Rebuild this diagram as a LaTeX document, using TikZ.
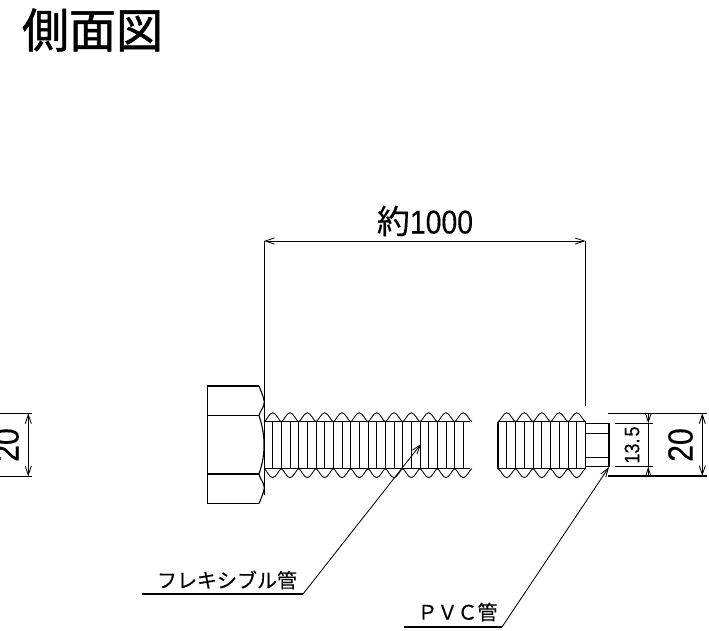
\documentclass[tikz,border=0pt]{standalone}
\usepackage{fontspec}
\setmainfont{Noto Sans CJK JP}[FakeBold=0.3]
\newfontfamily\titlefont{Noto Sans CJK JP}[FakeBold=1.1]
\newfontfamily\dimfont[FakeStretch=0.86,FakeBold=0.3]{Liberation Sans}
\usetikzlibrary{arrows.meta}
\usetikzlibrary{calc}

\begin{document}
\begin{tikzpicture}[
            x = 1pt,
            y = -1pt,
            > = {Straight Barb[length=9pt,width=6pt]}, % arrow head style
            line width = 1.1pt
        ]

        \tikzstyle{every node}=[
            inner sep = 0pt,
            outer sep = 0pt
        ]
        \tikzstyle{thin line}=[line width = 0.85pt]

        \useasboundingbox (0,0) rectangle (709,630);
        \clip (0,0) rectangle (709,630);

	% title
        \node (title) at (92.5,30) {\fontsize{47}{47}\titlefont 側面図};

	% hexagon head
        \coordinate (HTL) at (207.5,386);
        \coordinate (HTR) at (259,386);
        \coordinate (HU) at (259,415.5);
        \coordinate (HD) at (259,474);
        \coordinate (HBR) at (259,503.5);
        \coordinate (HBL) at (207.5,503.5);
        \coordinate (HUL) at (207.5,415.5);
        \coordinate (HDL) at (207.5,474);

        \draw (HBR) -- (HBL) -- (HTL) -- (HTR);
        \draw (HUL) -- (HU);
        \draw (HDL) -- (HD);
        \draw (HTR) .. controls (263,396) and (265,401) .. (264,404)
                    .. controls (263,409) and (260,411) .. (HU)
                    .. controls (263,428) and (264,436) .. (264,445)
                    .. controls (264,454) and (263,462) .. (HD)
                    .. controls (260,479) and (263,481) .. (264,486)
                    .. controls (265,489) and (263,494) .. (HBR);

	% flexible pipe
        \coordinate (PT1) at (264,421.7);
        \coordinate (PB1) at (264,468.7);
        \coordinate (PT2) at (470,421.7);
        \coordinate (PB2) at (470,468.7);
        \coordinate (QT1) at (498,421.7);
        \coordinate (QB1) at (498,468.7);
        \coordinate (QT2) at (585.5,421.7);
        \coordinate (QB2) at (585.5,468.7);

        \draw (PT1) -- (PT2);
        \draw (PB1) -- (PB2);
        \draw (QT1) -- (QT2);
        \draw (QB1) -- (QB2);
        \draw (QT1) -- (QB1);
        \draw (QT2) -- (QB2);

        \foreach \k in {1,...,23}
            \draw[thin line] ($(PT1)+(\k*8.67,0)$) -- ($(PB1)+(\k*8.67,0)$);
        \foreach \k in {1,...,9}
            \draw[thin line] ($(QT1)+(\k*8.75,0)$) -- ($(QB1)+(\k*8.75,0)$);

        \foreach \k in {0,...,11} {
            \draw[thin line] ($(PT1)+(\k*17.33,0)$) .. controls +(2,0) and +(-3.5,0) .. ++(8.67,-9)
                .. controls +(3.5,0) and +(-2,0) .. ++(8.67,9);
            \draw[thin line] ($(PB1)+(\k*17.33,0)$) .. controls +(2,0) and +(-3.5,0) .. ++(8.67,9)
                .. controls +(3.5,0) and +(-2,0) .. ++(8.67,-9);
        }
        \foreach \k in {0,...,4} {
            \draw[thin line] ($(QT1)+(\k*17.5,0)$) .. controls +(2,0) and +(-3.5,0) .. ++(8.75,-9)
                .. controls +(3.5,0) and +(-2,0) .. ++(8.75,9);
            \draw[thin line] ($(QB1)+(\k*17.5,0)$) .. controls +(2,0) and +(-3.5,0) .. ++(8.75,9)
                .. controls +(3.5,0) and +(-2,0) .. ++(8.75,-9);
        }

	% PVC end
        \coordinate (VT) at (609,423.3);
        \coordinate (VB) at (609,466.7);
        \coordinate (VU) at (609,433.3);
        \coordinate (VD) at (609,457.3);
        \draw (QT2 |- VT) -- (VT) -- (VB) -- (QT2 |- VB);
        \draw (QT2 |- VU) -- (VU);
        \draw (QT2 |- VD) -- (VD);

	% length dimension
        \coordinate (LA) at (264,241);
        \coordinate (LB) at (585.5,241);
        \coordinate (LC) at (264,495);
        \coordinate (LD) at (585.5,406);
        \draw[thin line] (LA) -- (LC);
        \draw[thin line] (LB) -- (LD);
        \draw[<->,thin line] (LA) -- (LB);
        \node (len) at (425,221) {\fontsize{33}{33}\selectfont 約{\dimfont 1000}};

	% width dimensions
        \coordinate (WA) at (608,413.3);
        \coordinate (WB) at (706.7,413.3);
        \coordinate (WC) at (608,476);
        \coordinate (WD) at (706.7,476);
        \coordinate (WE) at (702.3,413.3);
        \coordinate (WF) at (702.3,476);
        \draw (WA) -- (WB);
        \draw (WC) -- (WD);
        \draw[<->,thin line] (WE) -- (WF);
        \node[rotate=90] (w20) at (680.5,445) {\fontsize{35}{35}\dimfont 20};

        \coordinate (SA) at (615,423.3);
        \coordinate (SB) at (652.7,423.3);
        \coordinate (SC) at (615,466.7);
        \coordinate (SD) at (652.7,466.7);
        \coordinate (SE) at (648.3,413.3);
        \coordinate (SF) at (648.3,423.3);
        \coordinate (SG) at (648.3,466.7);
        \coordinate (SH) at (648.3,476);
        \draw (SA) -- (SB);
        \draw (SC) -- (SD);
        \draw[thin line,->] (SE) -- (SF);
        \draw[thin line,->] (SH) -- (SG);
        \draw[thin line] (SF) -- (SG);
        \node[rotate=90] (w13) at (632,445) {\fontsize{21}{21}\dimfont 13.\kern2pt 5};

	% cut off dimension on the left
        \coordinate (XA) at (0,413.3);
        \coordinate (XB) at (32,413.3);
        \coordinate (XC) at (0,476.5);
        \coordinate (XD) at (32,476.5);
        \coordinate (XE) at (28.3,413.3);
        \coordinate (XF) at (28.3,476.5);
        \draw (XA) -- (XB);
        \draw (XC) -- (XD);
        \draw[<->,thin line] (XE) -- (XF);
        \node[rotate=90] (x20) at (6.5,445) {\fontsize{35}{35}\dimfont 20};

	% leaders
        \coordinate (FA) at (142,594);
        \coordinate (FB) at (303,594);
        \coordinate (FC) at (421,444);
        \draw (FA) -- (FB);
        \draw[->,thin line] (FB) -- (FC);
        \node (flex) at (227,580) {\fontsize{20}{20}\selectfont フレキシブル管};

        \coordinate (GA) at (404,627);
        \coordinate (GB) at (502,627);
        \coordinate (GC) at (609,467);
        \draw (GA) -- (GB);
        \draw[->,thin line] (GB) -- (GC);
        \node (pvc) at (457.5,612) {\fontsize{20}{20}\selectfont ＰＶＣ管};

  \end{tikzpicture}
\end{document}
